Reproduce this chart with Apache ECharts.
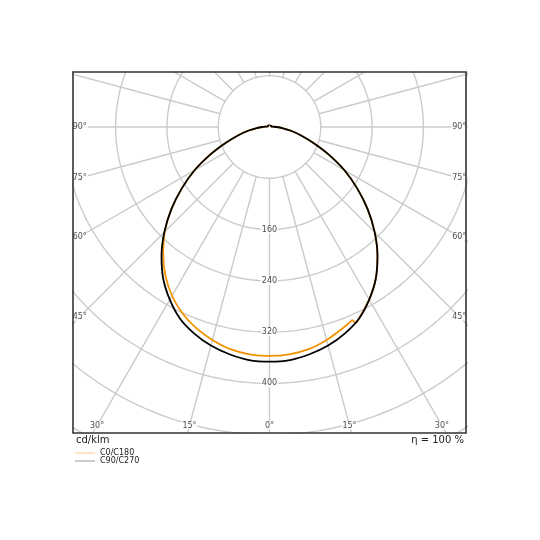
<!DOCTYPE html>
<html><head><meta charset="utf-8">
<script src="https://cdn.jsdelivr.net/npm/echarts@6/dist/echarts.min.js"></script>
<style>html,body{margin:0;padding:0;background:#fff}#c{width:540px;height:540px}</style>
</head><body><div id="c"></div><script>
// ---- data (cd/klm) ----
const angles = [0,5,10,15,20,25,30,35,40,45,50,55,60,65,70,75,80,85,90,95,100,105,110,115,120,125,130,135,140,145,150,155,160,165,170,175,180];
const c90c270 = [366,365,360,353,343,330,311,289,262,232,200,167,135,102,73,51,34,20,11,6,4,3,3,3,3,3,3,3,3,3,3,3,3,3,3,3,3];
const c180 = [357,356,352,344,334,321,304,283,258,231,200,167,135,102,73,51,34,20,11,6,4,3,3,3,3,3,3,3,3,3,3,3,3,3,3,3,3];
const c0Angles = [0,5,10,15,20,22.5,23.2,23.7,25,30,35,40,45,50,55,60,65,70,75,80,85,90,95,100,105,110,115,120,125,130,135,140,145,150,155,160,165,170,175,180];
const c0 = [357,356,352,344,334,329,328,334,330,311,289,262,232,200,167,135,102,73,51,34,20,11,6,4,3,3,3,3,3,3,3,3,3,3,3,3,3,3,3,3];
const ringValues = [80,160,240,320,400,480,560];
const ringLabelValues = [160,240,320,400];
const spokeAngles = [0,15,30,45,60,75,90,105,120,135,150,165,180,195,210,225,240,255,270,285,300,315,330,345];
const sideLabelAngles = [90,75,60,45];
const bottomLabelAngles = [-30,-15,0,15,30];
const unitText = 'cd/klm';
const etaText = 'η = 100 %';

// ---- layout ----
const X_MIN = -306.5, X_MAX = 306.5, Y_MIN = -477.4, Y_MAX = 85.8;
const FONT = 'DejaVu Sans';
const rad = a => a * Math.PI / 180;
const pt = (a, r, side) => [side * r * Math.sin(rad(a)), -r * Math.cos(rad(a))];

function curve(leftA, leftV, rightA, rightV) {
  const d = [];
  for (let i = leftA.length - 1; i >= 0; i--) d.push(pt(leftA[i], leftV[i], -1));
  for (let i = 1; i < rightA.length; i++) d.push(pt(rightA[i], rightV[i], 1));
  return d;
}

const series = [];
const gridLine = { color: '#cbcbcb', width: 1.4 };
ringValues.forEach(r => {
  const d = [];
  for (let a = 0; a <= 360; a += 1) d.push(pt(a, r, 1));
  series.push({ type: 'line', data: d, symbol: 'none', silent: true, z: 1, lineStyle: gridLine, animation: false });
});
spokeAngles.forEach(a => {
  series.push({ type: 'line', data: [pt(a, ringValues[0], 1), pt(a, 900, 1)], symbol: 'none', silent: true, z: 1, lineStyle: gridLine, animation: false });
});

const labelBase = { show: true, position: 'inside', fontSize: 8, color: '#1a1a1a', fontFamily: FONT, backgroundColor: '#fff', padding: [0, 1] };
// radial labels
series.push({
  type: 'scatter', symbolSize: 1, itemStyle: { color: 'rgba(0,0,0,0)' }, z: 3, silent: true, animation: false,
  data: ringLabelValues.map(v => ({ value: [0, -v], name: String(v) })),
  label: Object.assign({}, labelBase, { formatter: p => p.name })
});
// angle labels (centered on spoke, inset from frame)
const sideInset = 10.5;
const angleData = [];
sideLabelAngles.forEach(a => {
  const t = Math.tan(rad(a));
  const xl = X_MIN + sideInset, xr = X_MAX - sideInset;
  angleData.push({ value: [xl, -Math.abs(xl) / t], name: a + '°' });
  angleData.push({ value: [xr, -Math.abs(xr) / t], name: a + '°' });
});
const bottomInset = 11.7;
bottomLabelAngles.forEach(a => {
  const y = Y_MIN + bottomInset;
  angleData.push({ value: [-y * Math.tan(rad(a)), y], name: Math.abs(a) + '°' });
});
series.push({
  type: 'scatter', symbolSize: 1, itemStyle: { color: 'rgba(0,0,0,0)' }, z: 3, silent: true, animation: false,
  data: angleData,
  label: Object.assign({}, labelBase, { formatter: p => p.name })
});

series.push({
  name: 'C0/C180', type: 'line', data: curve(angles, c180, c0Angles, c0), symbol: 'none', smooth: 0.25, z: 5,
  lineStyle: { color: '#f39200', width: 1.8 }, itemStyle: { color: '#f39200' }, animation: false
});
series.push({
  name: 'C90/C270', type: 'line', data: curve(angles, c90c270, angles, c90c270), symbol: 'none', smooth: 0.25, z: 6,
  lineStyle: { color: '#000', width: 1.8 }, itemStyle: { color: '#000' }, animation: false
});

const chart = echarts.init(document.getElementById('c'), null, { renderer: 'canvas' });
chart.setOption({
  backgroundColor: '#fff',
  animation: false,
  grid: { left: 73, right: 74, top: 72, bottom: 107, show: true, borderColor: '#333', borderWidth: 1.6, backgroundColor: 'transparent', z: 10 },
  xAxis: { type: 'value', min: X_MIN, max: X_MAX, show: false },
  yAxis: { type: 'value', min: Y_MIN, max: Y_MAX, show: false },
  legend: {
    left: 70, top: 444, orient: 'vertical', itemWidth: 20, itemHeight: 1, itemGap: 0, icon: 'rect',
    textStyle: { fontSize: 8, color: '#222', fontFamily: FONT },
    data: [
      { name: 'C0/C180', itemStyle: { color: '#f8c98a' } },
      { name: 'C90/C270', itemStyle: { color: '#9a9a9a' } }
    ]
  },
  graphic: [
    { type: 'text', x: 76, y: 440, style: { text: unitText, font: '10px "DejaVu Sans"', fill: '#222', align: 'left', verticalAlign: 'middle' } },
    { type: 'text', x: 464, y: 440, style: { text: etaText, font: '10px "DejaVu Sans"', fill: '#222', align: 'right', verticalAlign: 'middle' } }
  ],
  series: series
});
</script></body></html>
